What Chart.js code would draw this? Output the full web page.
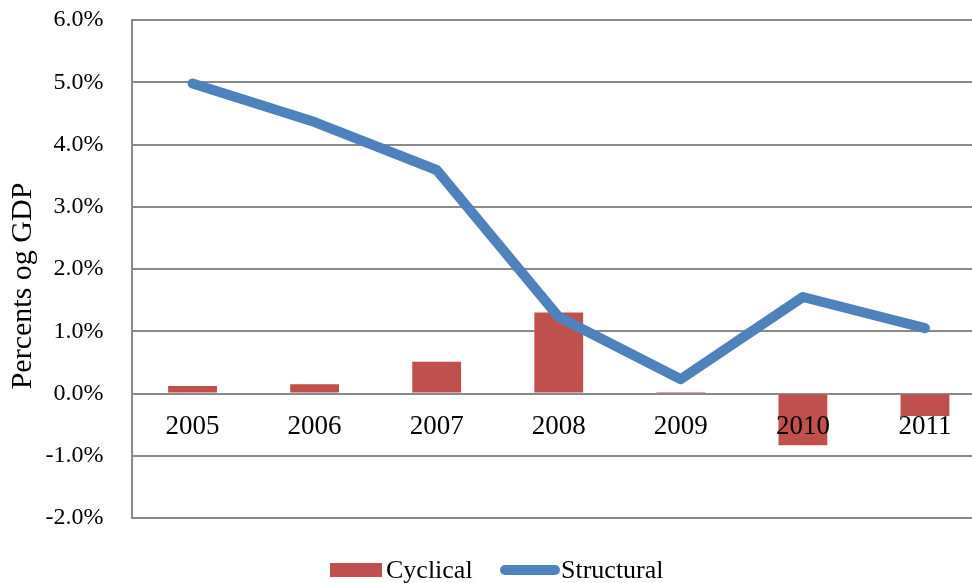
<!DOCTYPE html>
<html>
<head>
<meta charset="utf-8">
<script src="https://cdn.jsdelivr.net/npm/chart.js@4/dist/chart.umd.min.js"></script>
<style>
  html, body { margin: 0; padding: 0; background: #fff; overflow: hidden; }
  #wrap { width: 986px; height: 583px; position: relative; }
</style>
</head>
<body>
<div id="wrap"><canvas id="chart"></canvas></div>
<script>
// Budget balance decomposition, percent of GDP
const years = ['2005', '2006', '2007', '2008', '2009', '2010', '2011'];
const cyclical = [0.12, 0.15, 0.51, 1.30, 0.01, -0.83, -0.36];
const structural = [4.98, 4.36, 3.59, 1.23, 0.23, 1.55, 1.05];
const seriesNames = ['Cyclical', 'Structural'];
const yTitle = 'Percents og GDP';

const RED = '#C0504D';
const BLUE = '#4F81BD';
const GRID = '#8a8a8a';
const SERIF = '"Liberation Serif", "Times New Roman", serif';

// Rotated y-axis title
const yTitlePlugin = {
  id: 'yTitle',
  afterDraw(chart) {
    const ctx = chart.ctx;
    ctx.save();
    ctx.translate(23, 286);
    ctx.rotate(-Math.PI / 2);
    ctx.font = '30px ' + SERIF;
    ctx.fillStyle = '#000';
    ctx.textAlign = 'center';
    ctx.textBaseline = 'middle';
    ctx.fillText(yTitle, 0, 0);
    ctx.restore();
  }
};

// Legend below the plot: a box for the bars, a thick rounded stroke for the line
const legendPlugin = {
  id: 'bottomLegend',
  afterDraw(chart) {
    const ctx = chart.ctx;
    const ds = chart.data.datasets;
    ctx.save();
    ctx.font = '26px ' + SERIF;
    ctx.textBaseline = 'alphabetic';
    // bar entry
    ctx.fillStyle = ds[0].backgroundColor;
    ctx.fillRect(330, 563, 52, 14);
    ctx.fillStyle = '#000';
    ctx.fillText(ds[0].label, 386, 578);
    // line entry
    ctx.strokeStyle = ds[1].borderColor;
    ctx.lineWidth = 10;
    ctx.lineCap = 'round';
    ctx.beginPath();
    ctx.moveTo(505, 570);
    ctx.lineTo(555, 570);
    ctx.stroke();
    ctx.fillText(ds[1].label, 561, 578);
    ctx.restore();
  }
};

new Chart(document.getElementById('chart'), {
  data: {
    labels: years,
    datasets: [
      {
        type: 'bar',
        label: seriesNames[0],
        data: cyclical,
        backgroundColor: RED,
        borderWidth: 0,
        categoryPercentage: 1.0,
        barPercentage: 0.4,
        order: 2
      },
      {
        type: 'line',
        label: seriesNames[1],
        data: structural,
        borderColor: BLUE,
        backgroundColor: BLUE,
        borderWidth: 10,
        borderCapStyle: 'round',
        borderJoinStyle: 'round',
        pointRadius: 0,
        pointHoverRadius: 0,
        tension: 0,
        fill: false,
        order: 1
      }
    ]
  },
  options: {
    responsive: true,
    maintainAspectRatio: false,
    animation: false,
    layout: { padding: { top: 20, bottom: 65, left: 0, right: 0 } },
    plugins: {
      legend: { display: false },
      tooltip: { enabled: false }
    },
    scales: {
      x: {
        type: 'category',
        position: { y: 0 },
        offset: true,
        grid: { display: false, drawTicks: false },
        border: { display: true, color: GRID, width: 2 },
        ticks: {
          z: 1,
          padding: 17,
          color: '#000',
          font: { family: SERIF, size: 27 },
          maxRotation: 0
        }
      },
      y: {
        min: -2,
        max: 6,
        position: 'left',
        afterFit(scale) {
          scale.width = 131.5;
          scale.paddingTop = 0;
          scale.paddingBottom = 0;
        },
        grid: { color: GRID, lineWidth: 2, drawTicks: false },
        border: { display: true, color: GRID, width: 2 },
        ticks: {
          stepSize: 1,
          padding: 28,
          color: '#000',
          font: { family: SERIF, size: 24 },
          callback: v => v.toFixed(1) + '%'
        }
      }
    }
  },
  plugins: [yTitlePlugin, legendPlugin]
});
</script>
</body>
</html>
